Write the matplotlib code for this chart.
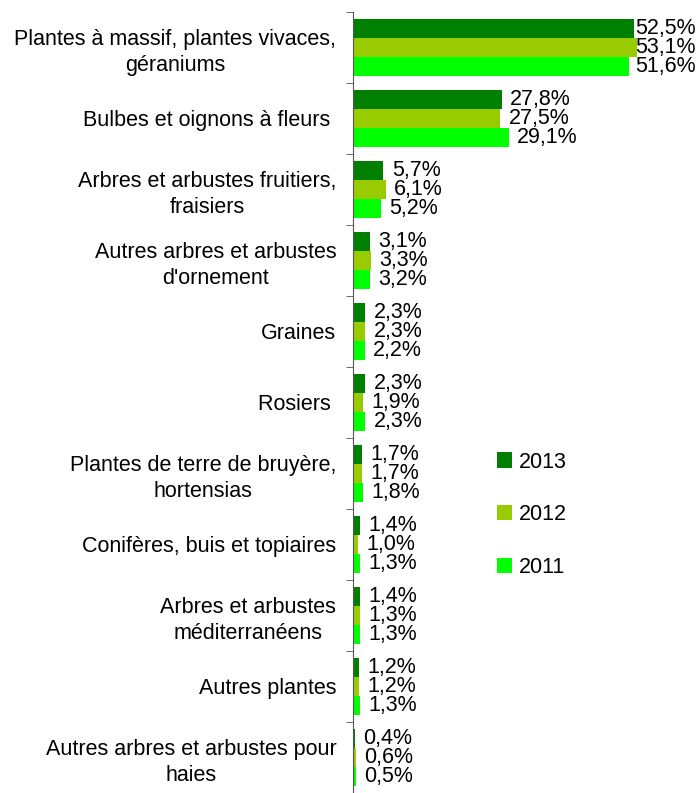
import matplotlib.pyplot as plt
import numpy as np

plt.rcParams['font.family'] = ['Liberation Sans', 'DejaVu Sans']

categories = ['Plantes à massif, plantes vivaces,\ngéraniums',
              'Bulbes et oignons à fleurs ',
              'Arbres et arbustes fruitiers,\nfraisiers',
              'Autres arbres et arbustes\nd\'ornement',
              'Graines',
              'Rosiers ',
              'Plantes de terre de bruyère,\nhortensias',
              'Conifères, buis et topiaires',
              'Arbres et arbustes\nméditerranéens',
              'Autres plantes',
              'Autres arbres et arbustes pour\nhaies']
years = ['2013', '2012', '2011']
v2013 = [52.5, 27.8, 5.7, 3.1, 2.3, 2.3, 1.7, 1.4, 1.4, 1.2, 0.4]
v2012 = [53.1, 27.5, 6.1, 3.3, 2.3, 1.9, 1.7, 1.0, 1.3, 1.2, 0.6]
v2011 = [51.6, 29.1, 5.2, 3.2, 2.2, 2.3, 1.8, 1.3, 1.3, 1.3, 0.5]
colors = ['#008000', '#99CC00', '#00FF00']

fig = plt.figure(figsize=(6.99, 7.93), dpi=100)
ax = fig.add_axes([0.505, 0.0, 0.492, 0.985])

n = len(categories)
y = np.arange(n)
h = 0.27
xmax = 64.3
fs = 15.5

for i, (vals, col, yr) in enumerate(zip([v2013, v2012, v2011], colors, years)):
    pos = y + (i - 1) * h
    ax.barh(pos, vals, height=h, color=col, label=yr)
    for p, v in zip(pos, vals):
        lab = ('%.1f%%' % v).replace('.', ',')
        if v > 45:
            ax.text(xmax - 0.3, p, lab, ha='right', va='center', fontsize=fs)
        else:
            ax.annotate(lab, (v, p), xytext=(6, 0), textcoords='offset points',
                        ha='left', va='center', fontsize=fs)

ax.set_xlim(0, xmax)
ax.set_ylim(n - 0.5, -0.5)
ax.set_yticks(y)
ax.set_yticklabels(categories, fontsize=fs)
ax.set_yticks(np.arange(-0.5, n, 1), minor=True)
ax.tick_params(axis='y', which='major', length=0, pad=12)
ax.tick_params(axis='y', which='minor', length=5, color='#555555')
for t in ax.get_yticklabels():
    t.set_multialignment('center')
    t.set_linespacing(1.3)
ax.set_xticks([])
for s in ['top', 'right', 'bottom']:
    ax.spines[s].set_visible(False)
ax.spines['left'].set_color('#555555')

ax.legend(loc='upper left', bbox_to_anchor=(0.363, 0.462), frameon=False,
          fontsize=fs, labelspacing=1.47, handlelength=0.7,
          handleheight=0.7, handletextpad=0.3)

fig.savefig('out.png', dpi=100)
